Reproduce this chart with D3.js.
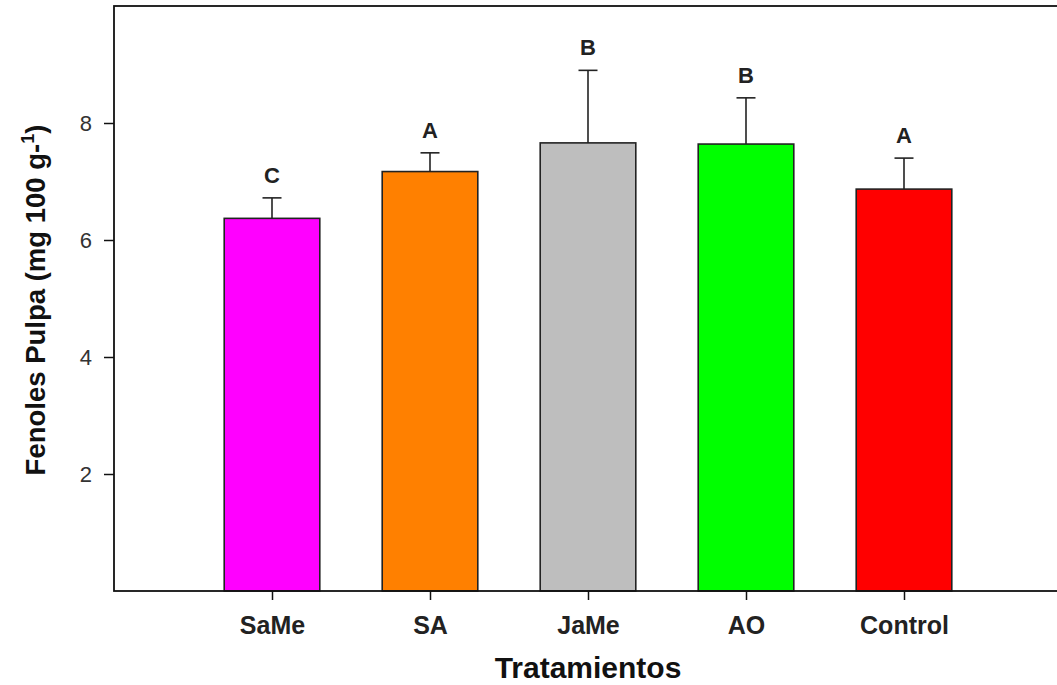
<!DOCTYPE html>
<html>
<head>
<meta charset="utf-8">
<script src="https://cdn.jsdelivr.net/npm/d3@7"></script>
<style>
  html, body { margin: 0; padding: 0; background: #fff; }
  svg { display: block; font-family: "Liberation Sans", Arial, sans-serif; }
</style>
</head>
<body>
<svg id="chart" width="1057" height="685"></svg>
<script>
// Treatments and their mean phenol content (mg 100 g-1), with upper error bars
const categories = ["SaMe", "SA", "JaMe", "AO", "Control"];
const means      = [6.37, 7.17, 7.66, 7.64, 6.87];
const errors     = [0.35, 0.32, 1.24, 0.79, 0.53];
const letters    = ["C", "A", "B", "B", "A"];
const colors     = ["#ff00ff", "#ff8000", "#bebebe", "#00ff00", "#ff0000"];
const yTicks     = [2, 4, 6, 8];

const svg = d3.select("#chart");
const plotLeft = 114, plotRight = 1062, plotTop = 6, plotBottom = 591;

const x = d3.scalePoint().domain(categories).range([plotLeft, plotRight]).padding(1);
const y = d3.scaleLinear().domain([0, 10]).range([plotBottom, plotTop]);
const barW = x.step() * 0.605;

const data = categories.map((c, i) => ({
  cat: c, mean: means[i], err: errors[i], letter: letters[i], color: colors[i]
}));

// bars
svg.append("g").selectAll("rect").data(data).join("rect")
  .attr("x", d => x(d.cat) - barW / 2)
  .attr("y", d => y(d.mean))
  .attr("width", barW)
  .attr("height", d => y(0) - y(d.mean))
  .attr("fill", d => d.color)
  .attr("stroke", "#222")
  .attr("stroke-width", 1.6);

// error bars (upper only)
const eb = svg.append("g").attr("stroke", "#222").attr("stroke-width", 1.6);
eb.selectAll("line.v").data(data).join("line").attr("class", "v")
  .attr("x1", d => x(d.cat)).attr("x2", d => x(d.cat))
  .attr("y1", d => y(d.mean)).attr("y2", d => y(d.mean + d.err));
eb.selectAll("line.h").data(data).join("line").attr("class", "h")
  .attr("x1", d => x(d.cat) - 9.5).attr("x2", d => x(d.cat) + 9.5)
  .attr("y1", d => y(d.mean + d.err)).attr("y2", d => y(d.mean + d.err));

// significance letters
svg.append("g").selectAll("text").data(data).join("text")
  .attr("x", d => x(d.cat))
  .attr("y", d => y(d.mean + d.err) - 15)
  .attr("text-anchor", "middle")
  .attr("font-size", 22)
  .attr("font-weight", "bold")
  .attr("fill", "#222")
  .text(d => d.letter);

// frame
svg.append("rect")
  .attr("x", plotLeft).attr("y", plotTop)
  .attr("width", plotRight - plotLeft).attr("height", plotBottom - plotTop)
  .attr("fill", "none").attr("stroke", "#111").attr("stroke-width", 1.8);

// y axis
const yAxis = svg.append("g")
  .attr("transform", `translate(${plotLeft},0)`)
  .call(d3.axisLeft(y).tickValues(yTicks).tickSize(10).tickPadding(12).tickFormat(d3.format("d")));
yAxis.select(".domain").remove();
yAxis.selectAll(".tick line").attr("stroke", "#111").attr("stroke-width", 1.5);
yAxis.selectAll(".tick text")
  .attr("font-size", 22).attr("fill", "#333")
  .attr("font-family", "Liberation Sans, Arial, sans-serif");

// x axis
const xAxis = svg.append("g")
  .attr("transform", `translate(0,${plotBottom})`)
  .call(d3.axisBottom(x).tickSize(9).tickPadding(16));
xAxis.select(".domain").remove();
xAxis.selectAll(".tick line").attr("stroke", "#111").attr("stroke-width", 1.5);
xAxis.selectAll(".tick text")
  .attr("font-size", 25).attr("font-weight", "bold").attr("fill", "#222")
  .attr("font-family", "Liberation Sans, Arial, sans-serif");

// axis titles
svg.append("text")
  .attr("x", 588).attr("y", 678)
  .attr("text-anchor", "middle")
  .attr("font-size", 30).attr("font-weight", "bold").attr("fill", "#111")
  .text("Tratamientos");

const yt = svg.append("text")
  .attr("transform", "translate(45,300) rotate(-90)")
  .attr("text-anchor", "middle")
  .attr("font-size", 27.5).attr("font-weight", "bold").attr("fill", "#111");
yt.append("tspan").text("Fenoles Pulpa (mg 100 g-");
yt.append("tspan").attr("dy", -11).attr("font-size", 18).text("1");
yt.append("tspan").attr("dy", 11).text(")");
</script>
</body>
</html>
